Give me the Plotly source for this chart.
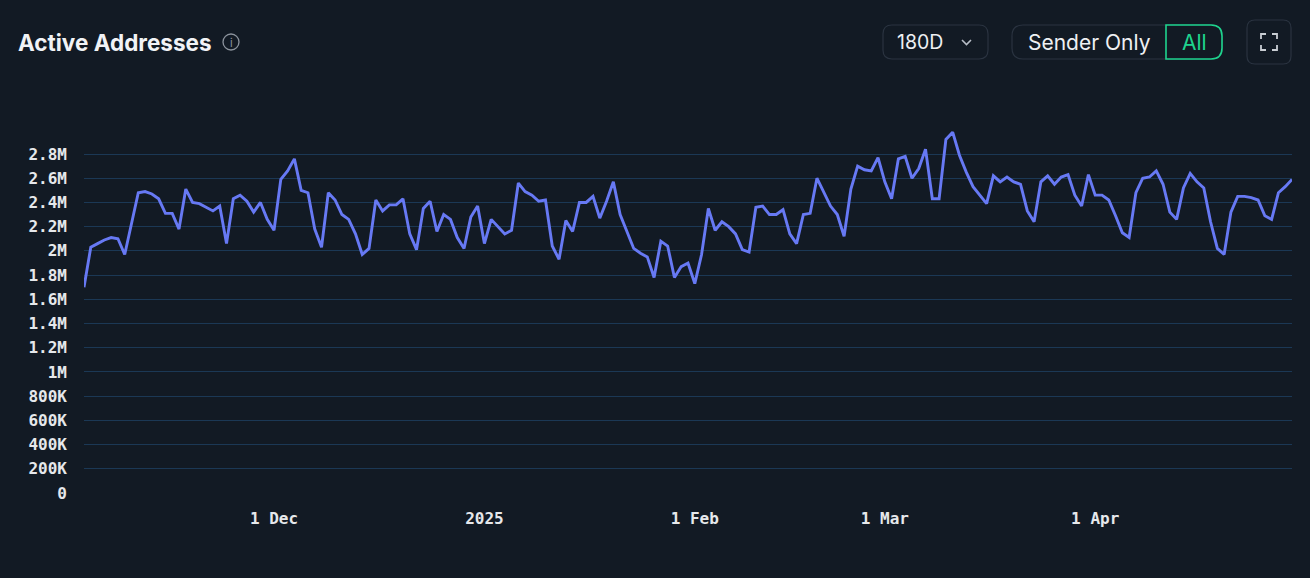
import plotly.graph_objects as go
import pandas as pd

# ---------------- data (millions of active addresses, daily) ----------------
start_date = "2024-11-03"
nov_values = [1.70, 2.03, 2.06, 2.09, 2.11, 2.10, 1.97, 2.23, 2.48, 2.49, 2.47, 2.43, 2.31, 2.31,
              2.18, 2.51, 2.40, 2.39, 2.36, 2.33, 2.37, 2.06, 2.43, 2.46, 2.41, 2.32, 2.40, 2.26]
dec_values = [2.17, 2.59, 2.66, 2.76, 2.50, 2.48, 2.18, 2.03, 2.48, 2.42, 2.30, 2.26, 2.14, 1.97,
              2.02, 2.42, 2.33, 2.38, 2.38, 2.43, 2.14, 2.01, 2.35, 2.41, 2.16, 2.30, 2.26, 2.11,
              2.02, 2.28, 2.37]
jan_values = [2.06, 2.26, 2.20, 2.14, 2.17, 2.56, 2.49, 2.46, 2.41, 2.42, 2.04, 1.93, 2.25, 2.16,
              2.40, 2.40, 2.45, 2.27, 2.41, 2.57, 2.30, 2.16, 2.02, 1.98, 1.95, 1.78, 2.08, 2.04,
              1.78, 1.87, 1.90]
feb_values = [1.73, 1.97, 2.35, 2.17, 2.24, 2.20, 2.14, 2.01, 1.99, 2.36, 2.37, 2.30, 2.30, 2.34,
              2.14, 2.06, 2.30, 2.31, 2.60, 2.48, 2.37, 2.30, 2.12, 2.51, 2.70, 2.67, 2.66, 2.77]
mar_values = [2.57, 2.43, 2.76, 2.78, 2.60, 2.68, 2.84, 2.43, 2.43, 2.92, 2.98, 2.79, 2.65, 2.53,
              2.46, 2.39, 2.62, 2.57, 2.61, 2.57, 2.55, 2.33, 2.24, 2.57, 2.62, 2.55, 2.61, 2.63,
              2.46, 2.37, 2.63]
apr_values = [2.46, 2.46, 2.42, 2.29, 2.15, 2.11, 2.48, 2.60, 2.61, 2.66, 2.55, 2.32, 2.26, 2.52,
              2.64, 2.57, 2.52, 2.24, 2.02, 1.97, 2.32, 2.45, 2.45, 2.44, 2.42, 2.29, 2.26, 2.48,
              2.53, 2.59]

x_tick_dates = ["2024-12-01", "2025-01-01", "2025-02-01", "2025-03-01", "2025-04-01"]
x_tick_labels = ["1 Dec", "2025", "1 Feb", "1 Mar", "1 Apr"]
y_tick_values = [i * 200_000 for i in range(15)]
y_tick_labels = ["0", "200K", "400K", "600K", "800K", "1M", "1.2M", "1.4M", "1.6M",
                 "1.8M", "2M", "2.2M", "2.4M", "2.6M", "2.8M"]

values_m = nov_values + dec_values + jan_values + feb_values + mar_values + apr_values
dates = pd.date_range(start_date, periods=len(values_m), freq="D")
values = [v * 1e6 for v in values_m]

# ---------------- layout geometry ----------------
W, H = 1310, 578
L, R, T, B = 84, 18, 131, 85
PW, PH = W - L - R, H - T - B
BG = "#121a24"
GRID = "#1b3855"
LINE = "#6779f4"
BORDER = "#2a3340"
GREEN = "#1ed48e"


def px(x):
    return (x - L) / PW


def py(y):
    return (H - B - y) / PH


def rrect_path(x0, y0, x1, y1, r, rl=True, rr=True):
    rl_ = r if rl else 0
    rr_ = r if rr else 0
    p = []
    p.append(f"M {px(x0 + rl_)},{py(y0)}")
    p.append(f"L {px(x1 - rr_)},{py(y0)}")
    if rr_:
        p.append(f"Q {px(x1)},{py(y0)} {px(x1)},{py(y0 + rr_)}")
    p.append(f"L {px(x1)},{py(y1 - rr_)}")
    if rr_:
        p.append(f"Q {px(x1)},{py(y1)} {px(x1 - rr_)},{py(y1)}")
    p.append(f"L {px(x0 + rl_)},{py(y1)}")
    if rl_:
        p.append(f"Q {px(x0)},{py(y1)} {px(x0)},{py(y1 - rl_)}")
    p.append(f"L {px(x0)},{py(y0 + rl_)}")
    if rl_:
        p.append(f"Q {px(x0)},{py(y0)} {px(x0 + rl_)},{py(y0)}")
    p.append("Z")
    return " ".join(p)


def poly(points):
    s = f"M {px(points[0][0])},{py(points[0][1])}"
    for x, y in points[1:]:
        s += f" L {px(x)},{py(y)}"
    return s


fig = go.Figure()
fig.add_trace(go.Scatter(
    x=dates, y=values, mode="lines",
    line=dict(color=LINE, width=2.9),
    hoverinfo="skip", showlegend=False,
))

shapes = []
# 180D dropdown
shapes.append(dict(type="path", xref="paper", yref="paper",
                   path=rrect_path(883, 25, 988, 59, 9),
                   line=dict(color=BORDER, width=1.2), fillcolor=BG))
shapes.append(dict(type="path", xref="paper", yref="paper",
                   path=poly([(962, 40), (966.5, 44.5), (971, 40)]),
                   line=dict(color="#b8bec7", width=1.6)))
# toggle group
shapes.append(dict(type="path", xref="paper", yref="paper",
                   path=rrect_path(1012, 25, 1222, 59, 11),
                   line=dict(color=BORDER, width=1.2), fillcolor=BG))
shapes.append(dict(type="path", xref="paper", yref="paper",
                   path=rrect_path(1166, 25, 1222, 59, 11, rl=False, rr=True),
                   line=dict(color=GREEN, width=1.6), fillcolor=BG))
# fullscreen button
shapes.append(dict(type="path", xref="paper", yref="paper",
                   path=rrect_path(1247, 20, 1291, 64, 8),
                   line=dict(color=BORDER, width=1.2), fillcolor=BG))
cx, cy, s, a = 1269, 42, 8, 5
for sx in (-1, 1):
    for sy in (-1, 1):
        shapes.append(dict(type="path", xref="paper", yref="paper",
                           path=poly([(cx + sx * s, cy + sy * (s - a)),
                                      (cx + sx * s, cy + sy * s),
                                      (cx + sx * (s - a), cy + sy * s)]),
                           line=dict(color="#c9cdd3", width=1.8)))
# info icon
shapes.append(dict(type="circle", xref="paper", yref="paper",
                   x0=px(223), x1=px(239), y0=py(50), y1=py(34),
                   line=dict(color="#8c939d", width=1.3)))

annotations = [
    dict(text="<b>Active Addresses</b>", x=px(16), y=py(42), xref="paper", yref="paper",
         xanchor="left", yanchor="middle", showarrow=False,
         font=dict(family="Inter", size=22.5, color="#f1f3f6")),
    dict(text="i", x=px(231), y=py(42.5), xref="paper", yref="paper",
         xanchor="center", yanchor="middle", showarrow=False,
         font=dict(family="Inter", size=11, color="#8c939d")),
    dict(text="180D", x=px(895), y=py(42), xref="paper", yref="paper",
         xanchor="left", yanchor="middle", showarrow=False,
         font=dict(family="Inter", size=19.5, color="#eef0f3")),
    dict(text="Sender Only", x=px(1089.5), y=py(42), xref="paper", yref="paper",
         xanchor="center", yanchor="middle", showarrow=False,
         font=dict(family="Inter", size=21, color="#eef0f3")),
    dict(text="All", x=px(1194), y=py(42), xref="paper", yref="paper",
         xanchor="center", yanchor="middle", showarrow=False,
         font=dict(family="Inter", size=21, color=GREEN)),
]

tick_font = dict(family="DejaVu Sans Mono", size=16, color="#e6e8eb", weight="bold")

fig.update_layout(
    width=W, height=H,
    margin=dict(l=L, r=R, t=T, b=B),
    paper_bgcolor=BG, plot_bgcolor=BG,
    shapes=shapes, annotations=annotations,
    showlegend=False,
    xaxis=dict(
        type="date",
        range=[dates[0], dates[-1]],
        tickvals=pd.to_datetime(x_tick_dates), ticktext=x_tick_labels,
        showgrid=False, zeroline=False, showline=False,
        ticks="", ticklabelstandoff=14,
        tickfont=tick_font,
        fixedrange=True,
    ),
    yaxis=dict(
        range=[0, 2.99e6],
        tickvals=y_tick_values, ticktext=y_tick_labels,
        showgrid=True, gridcolor=GRID, gridwidth=1,
        zeroline=False, showline=False,
        ticks="", ticklabelstandoff=16,
        tickfont=tick_font,
        fixedrange=True,
    ),
)

fig.write_html(
    "out.html",
    config={"displayModeBar": False},
    post_script="document.body.style.margin='0';document.body.style.background='%s';" % BG,
)
